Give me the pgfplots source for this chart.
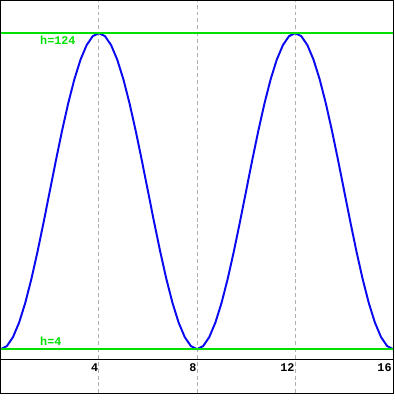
\documentclass[border=0pt]{standalone}
\usepackage{pgfplots}
\pgfplotsset{compat=1.18}
\usepackage{fontspec}
\setmainfont{Liberation Mono}
\definecolor{curveblue}{RGB}{10,10,240}
\definecolor{hgreen}{RGB}{0,225,0}
\definecolor{gridgray}{RGB}{175,175,175}
\begin{document}
\begin{tikzpicture}
\begin{axis}[
  scale only axis,
  width=400bp, height=400bp,
  xmin=0, xmax=16,
  ymin=-12.77, ymax=136.3,
  xtick={4,8,12},
  xticklabels={},
  ytick=\empty,
  major tick length=0pt,
  xmajorgrids,
  grid style={gridgray, line width=1bp, dash pattern=on 4bp off 3bp},
  axis line style={black, line width=1.5bp},
  clip=true,
]
\addplot[black, line width=1.2bp] coordinates {(0,0) (16,0)};
\addplot[curveblue, line width=2bp, line join=round] coordinates {
(0,4) (0.25,5.15) (0.5,8.57) (0.75,14.11) (1,21.57) (1.25,30.67) (1.5,41.04) (1.75,52.29)
(2,64) (2.25,75.71) (2.5,86.96) (2.75,97.33) (3,106.43) (3.25,113.89) (3.5,119.43) (3.75,122.85)
(4,124) (4.25,122.85) (4.5,119.43) (4.75,113.89) (5,106.43) (5.25,97.33) (5.5,86.96) (5.75,75.71)
(6,64) (6.25,52.29) (6.5,41.04) (6.75,30.67) (7,21.57) (7.25,14.11) (7.5,8.57) (7.75,5.15)
(8,4) (8.25,5.15) (8.5,8.57) (8.75,14.11) (9,21.57) (9.25,30.67) (9.5,41.04) (9.75,52.29)
(10,64) (10.25,75.71) (10.5,86.96) (10.75,97.33) (11,106.43) (11.25,113.89) (11.5,119.43) (11.75,122.85)
(12,124) (12.25,122.85) (12.5,119.43) (12.75,113.89) (13,106.43) (13.25,97.33) (13.5,86.96) (13.75,75.71)
(14,64) (14.25,52.29) (14.5,41.04) (14.75,30.67) (15,21.57) (15.25,14.11) (15.5,8.57) (15.75,5.15)
(16,4)
};
\addplot[color=hgreen, line width=1.4bp] coordinates {(0,124) (16,124)};
\addplot[color=hgreen, line width=1.4bp] coordinates {(0,4) (16,4)};
\node[text=hgreen, anchor=north west, inner sep=0pt, font=\fontsize{12bp}{13bp}\selectfont\bfseries] at (axis cs:1.6,124) [yshift=-2.5bp] {h=124};
\node[text=hgreen, anchor=south west, inner sep=0pt, font=\fontsize{12bp}{13bp}\selectfont\bfseries] at (axis cs:1.6,4) [yshift=3bp] {h=4};
\node[black, anchor=north east, inner sep=0pt, font=\fontsize{12bp}{13bp}\selectfont\bfseries] at (axis cs:4,0) [yshift=-4bp, xshift=-0.5bp] {4};
\node[black, anchor=north east, inner sep=0pt, font=\fontsize{12bp}{13bp}\selectfont\bfseries] at (axis cs:8,0) [yshift=-4bp, xshift=-0.5bp] {8};
\node[black, anchor=north east, inner sep=0pt, font=\fontsize{12bp}{13bp}\selectfont\bfseries] at (axis cs:12,0) [yshift=-4bp, xshift=-0.5bp] {12};
\node[black, anchor=north east, inner sep=0pt, font=\fontsize{12bp}{13bp}\selectfont\bfseries] at (axis cs:16,0) [yshift=-4bp, xshift=-1.5bp] {16};
\end{axis}
\end{tikzpicture}
\end{document}
